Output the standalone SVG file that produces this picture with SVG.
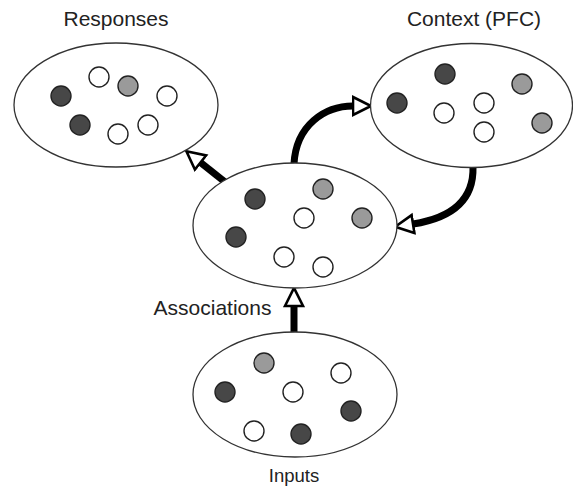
<svg xmlns="http://www.w3.org/2000/svg" width="573" height="488" viewBox="0 0 573 488">
<style>
.pool{fill:#fff;stroke:#333;stroke-width:1.3}
.u{stroke:#222;stroke-width:1.4}
.d{fill:#474747}
.g{fill:#9a9a9a}
.w{fill:#fff}
.lbl{font-family:"Liberation Sans",Arial,sans-serif;fill:#222;text-anchor:middle}
.con{fill:none;stroke:#000;stroke-width:7;marker-end:url(#head)}
</style>
<defs>
<marker id="head" markerUnits="userSpaceOnUse" markerWidth="26" markerHeight="24" viewBox="0 0 26 24" refX="1.5" refY="11" orient="auto">
<path d="M1.5,2 L19.5,11 L1.5,20 Z" fill="#fff" stroke="#000" stroke-width="2.6" stroke-linejoin="miter"/>
</marker>
</defs>
<rect width="573" height="488" fill="#fff"/>
<g id="connectors">
<path class="con" d="M225,182 L200.5,162.5"/>
<path class="con" d="M294,332 L294,306"/>
<path class="con" d="M294,164 C296,125 325,106 353,106"/>
<path class="con" d="M473,167 C474,205 445,219 413,224"/>
</g>
<g id="responses">
<ellipse class="pool" cx="116" cy="105" rx="102" ry="62"/>
<circle class="u d" cx="61" cy="96" r="10"/>
<circle class="u w" cx="99" cy="77" r="10"/>
<circle class="u g" cx="128" cy="86" r="10"/>
<circle class="u w" cx="167" cy="96" r="10"/>
<circle class="u d" cx="80" cy="125" r="10"/>
<circle class="u w" cx="118" cy="134" r="10"/>
<circle class="u w" cx="148" cy="125" r="10"/>
<text class="lbl" x="116" y="26" font-size="21">Responses</text>
</g>
<g id="context">
<ellipse class="pool" cx="471.5" cy="105.5" rx="101" ry="62"/>
<circle class="u d" cx="445" cy="74" r="10"/>
<circle class="u g" cx="522" cy="84" r="10"/>
<circle class="u d" cx="397" cy="103" r="10"/>
<circle class="u w" cx="444" cy="113" r="10"/>
<circle class="u w" cx="484" cy="103" r="10"/>
<circle class="u w" cx="484" cy="132" r="10"/>
<circle class="u g" cx="542" cy="123" r="10"/>
<text class="lbl" x="474" y="26" font-size="21">Context (PFC)</text>
</g>
<g id="associations">
<ellipse class="pool" cx="295" cy="225.5" rx="102" ry="62.5"/>
<circle class="u d" cx="255" cy="199" r="10"/>
<circle class="u g" cx="323" cy="189" r="10"/>
<circle class="u w" cx="304" cy="218" r="10"/>
<circle class="u g" cx="362" cy="218" r="10"/>
<circle class="u d" cx="236" cy="237" r="10"/>
<circle class="u w" cx="284" cy="257" r="10"/>
<circle class="u w" cx="323" cy="267" r="10"/>
<text class="lbl" x="212.5" y="315" font-size="21">Associations</text>
</g>
<g id="inputs">
<ellipse class="pool" cx="295" cy="394.5" rx="102" ry="62.5"/>
<circle class="u g" cx="264" cy="363" r="10"/>
<circle class="u w" cx="341" cy="373" r="10"/>
<circle class="u d" cx="225" cy="392" r="10"/>
<circle class="u w" cx="293" cy="392" r="10"/>
<circle class="u d" cx="351" cy="411" r="10"/>
<circle class="u w" cx="254" cy="431" r="10"/>
<circle class="u d" cx="301" cy="434" r="10"/>
<text class="lbl" x="294" y="482" font-size="18.5">Inputs</text>
</g>
</svg>
